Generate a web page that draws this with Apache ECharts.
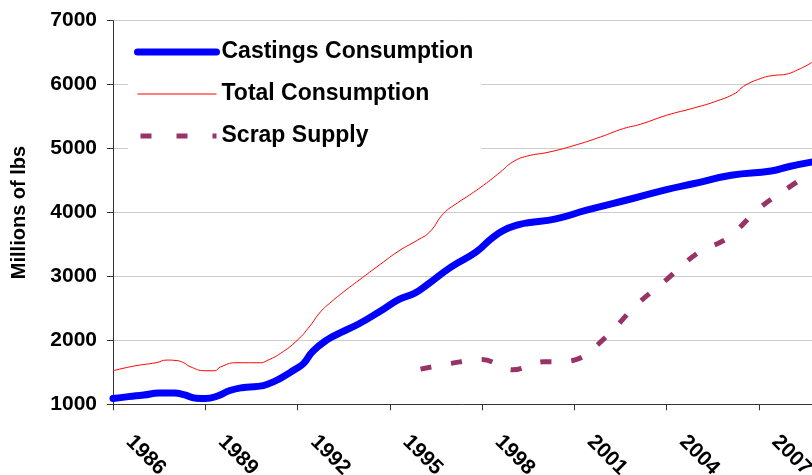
<!DOCTYPE html>
<html>
<head>
<meta charset="utf-8">
<script src="https://cdn.jsdelivr.net/npm/echarts@6/dist/echarts.min.js"></script>
<style>
html,body{margin:0;padding:0;background:#fff;}
#chart{width:812px;height:475px;}
</style>
</head>
<body>
<div id="chart"></div>
<script>
// ---- data (x = fractional year) ----
const castingsYears = [1986.0,1986.5,1987.0,1987.5,1988.0,1988.3,1988.7,1989.0,1989.4,1989.8,1990.2,1990.7,1991.0,1991.4,1991.9,1992.2,1992.5,1993.0,1993.4,1994.0,1994.7,1995.3,1995.8,1996.2,1997.0,1997.8,1998.3,1998.7,1999.2,1999.5,2000.4,2001.4,2002.9,2004.0,2004.9,2006.1,2007.4,2008.0,2008.75];
const castingsValues = [1090,1120,1145,1175,1175,1150,1095,1090,1130,1215,1260,1280,1310,1395,1540,1640,1830,2020,2120,2260,2460,2640,2735,2865,3150,3380,3590,3720,3810,3840,3900,4036,4219,4359,4453,4583,4650,4720,4791];

const totalYears = [1986.0,1986.7,1987.4,1987.75,1988.05,1988.3,1988.5,1989.0,1989.3,1989.5,1990.0,1990.8,1991.0,1991.45,1992.0,1992.4,1992.75,1993.1,1993.5,1994.0,1994.7,1995.3,1995.9,1996.3,1996.75,1997.2,1997.5,1998.05,1998.6,1999.0,1999.45,2000.2,2001.1,2001.85,2002.6,2003.15,2004.0,2004.9,2005.55,2006.25,2006.5,2007.05,2007.5,2007.8,2008.35,2008.75];
const totalValues = [1525,1600,1650,1692,1685,1650,1590,1525,1525,1585,1650,1650,1682,1797,2005,2223,2447,2603,2759,2942,3192,3400,3567,3697,3984,4150,4244,4427,4634,4791,4880,4947,5063,5181,5313,5380,5520,5636,5730,5869,5973,6094,6145,6156,6250,6355];

const scrapYears = [1996.0,1997.0,1998.0,1999.0,2000.0,2000.5,2001.0,2002.0,2003.0,2004.0,2005.0,2006.0,2007.0,2008.0,2009.0];
const scrapValues = [1550,1640,1700,1540,1665,1667,1690,2040,2545,2950,3360,3605,4060,4400,4720];

const xTickLabels = [1986,1989,1992,1995,1998,2001,2004,2007];
const seriesNames = ['Castings Consumption','Total Consumption','Scrap Supply'];
const yAxisTitle = 'Millions of lbs';

const pair = (xs, ys) => xs.map((x, i) => [x, ys[i]]);
const FONT = "'Liberation Sans', Arial, sans-serif";

const chart = echarts.init(document.getElementById('chart'), null, {renderer: 'canvas'});
chart.setOption({
  animation: false,
  backgroundColor: '#fff',
  grid: {left: 113, top: 20.7, right: 0, bottom: 70.7, outerBoundsMode: 'none', containLabel: false},
  legend: {
    orient: 'vertical',
    left: 128, top: 30,
    padding: [10, 8, 10, 6],
    backgroundColor: '#fff',
    itemWidth: 79, itemHeight: 24, itemGap: 18,
    textStyle: {fontFamily: FONT, fontSize: 23, fontWeight: 'bold', color: '#000', lineHeight: 24},
    data: [
      {name: seriesNames[0], itemStyle: {opacity: 0}, lineStyle: {width: 7, color: '#0000FF', cap: 'round'}},
      {name: seriesNames[1], itemStyle: {opacity: 0}, lineStyle: {width: 1, color: '#FF0000'}},
      {name: seriesNames[2], itemStyle: {opacity: 0}, lineStyle: {width: 5, color: '#993366', type: [11, 25], cap: 'butt', dashOffset: -3}}
    ]
  },
  xAxis: {
    type: 'value',
    min: 1986, max: 2008.73, interval: 3,
    splitLine: {show: false},
    axisLine: {lineStyle: {color: '#333', width: 1}},
    axisTick: {show: true, length: 6, lineStyle: {color: '#333'}},
    axisLabel: {
      rotate: -45, margin: 18, padding: [0, 0, 0, 23],
      fontFamily: FONT, fontSize: 21, fontWeight: 'bold', color: '#000',
      showMaxLabel: false,
      formatter: v => (xTickLabels.indexOf(Math.round(v)) >= 0 && Math.abs(v - Math.round(v)) < 1e-6) ? String(Math.round(v)) : ''
    }
  },
  yAxis: {
    type: 'value',
    min: 1000, max: 7000, interval: 1000,
    name: yAxisTitle,
    nameLocation: 'middle', nameGap: 84, nameRotate: 90,
    nameTextStyle: {fontFamily: FONT, fontSize: 20, fontWeight: 'bold', color: '#000'},
    axisLine: {show: true, lineStyle: {color: '#333', width: 1}},
    axisTick: {show: true, length: 6, lineStyle: {color: '#333'}},
    splitLine: {show: true, lineStyle: {color: '#cccccc', width: 1}},
    axisLabel: {margin: 16, fontFamily: FONT, fontSize: 21, fontWeight: 'bold', color: '#000', formatter: v => String(v)}
  },
  series: [
    {
      name: seriesNames[1], type: 'line', data: pair(totalYears, totalValues),
      showSymbol: false, symbol: 'none', smooth: 0.5,
      lineStyle: {width: 1, color: '#FF0000'}, itemStyle: {color: '#FF0000'}, z: 3
    },
    {
      name: seriesNames[2], type: 'line', data: pair(scrapYears, scrapValues),
      showSymbol: false, symbol: 'none', smooth: 0.4,
      lineStyle: {width: 5, color: '#993366', type: [11, 20], cap: 'butt'}, itemStyle: {color: '#993366'}, z: 3
    },
    {
      name: seriesNames[0], type: 'line', data: pair(castingsYears, castingsValues),
      showSymbol: false, symbol: 'none', smooth: 0.5,
      lineStyle: {width: 7, color: '#0000FF', cap: 'round', join: 'round'}, itemStyle: {color: '#0000FF'}, z: 4
    }
  ]
});
</script>
</body>
</html>
